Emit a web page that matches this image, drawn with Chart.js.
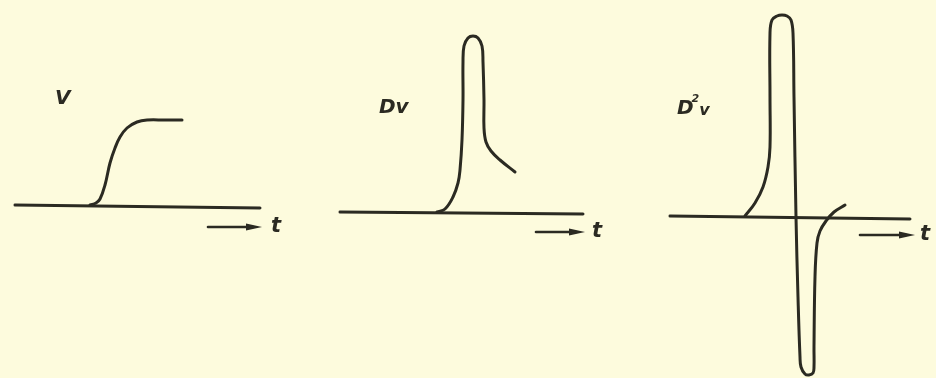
<!DOCTYPE html>
<html>
<head>
<meta charset="utf-8">
<script src="https://cdn.jsdelivr.net/npm/chart.js@4/dist/chart.umd.min.js"></script>
<style>
    html, body { margin: 0; background: #fdfbdd; }
    .row { position: relative; width: 936px; height: 378px; overflow: hidden; }
    .panel { position: absolute; top: 0; width: 312px; height: 378px; }
</style>
</head>
<body>
<div class="row">
    <div class="panel" style="left:0"><canvas id="pV"></canvas></div>
    <div class="panel" style="left:312px"><canvas id="pDv"></canvas></div>
    <div class="panel" style="left:624px"><canvas id="pD2v"></canvas></div>
</div>
<script>
// signal v(t) and its first and second derivative, as [t, value] pairs
const vAxis = [[15, 0], [260, -3]]
const vCurve = [[90, 0], [96, 2], [100, 6], [105, 20], [110, 42], [115, 57], [120, 68],
    [127, 77], [137, 83], [147, 85], [165, 85], [182, 85]]
const vArrow = [[208, -22], [253, -22]]

const dvAxis = [[28, 0], [271, -2]]
const dvCurve = [[125, 0], [133, 3], [141, 15], [146, 29], [148, 42], [150, 72], [151, 112],
    [151, 150], [152, 166], [156, 174], [161, 176], [166, 174], [170, 166], [171, 150],
    [172, 112], [172, 84], [174, 70], [179, 61], [188, 52], [203, 40]]
const dvArrow = [[224, -20], [264, -20]]

const d2vAxis = [[46, 1], [286, -2]]
const d2vCurve = [[121, 1], [131, 14], [139, 30], [144, 50], [146, 70], [146, 120], [146, 184],
    [148, 197], [153, 201], [158, 202], [163, 201], [167, 197], [169, 184], [170, 120],
    [172, 0], [174, -80], [176, -140], [177, -150], [181, -157], [185, -158], [189, -156],
    [190, -150], [190, -130], [191, -60], [193, -26], [196, -14], [202, -4], [210, 5], [221, 12]]
const d2vArrow = [[236, -18], [282, -18]]

const INK = '#2b2a22'

const pts = arr => arr.map(([x, y]) => ({ x, y }))

// text labels and arrowheads, placed through the chart's own scales
const annotate = {
    id: 'annotate',
    afterDatasetsDraw(chart, args, opts) {
        const { ctx, scales: { x, y } } = chart
        ctx.save()
        ctx.fillStyle = INK
        chart.data.datasets.forEach((ds, i) => {
            if (!ds.arrow) return
            const p = chart.getDatasetMeta(i).data
            const end = p[p.length - 1]
            ctx.beginPath()
            ctx.moveTo(end.x + 9, end.y)
            ctx.lineTo(end.x - 7, end.y - 3.5)
            ctx.lineTo(end.x - 7, end.y + 3.5)
            ctx.closePath()
            ctx.fill()
        })
        ctx.textBaseline = 'middle'
        ctx.textAlign = 'left'
        for (const l of opts.labels || []) {
            let px = x.getPixelForValue(l.t)
            const py = y.getPixelForValue(l.v)
            ctx.font = 'italic bold ' + (l.size || 19) + 'px "DejaVu Sans"'
            ctx.fillText(l.text, px, py)
            if (l.sup) {
                px += ctx.measureText(l.text).width
                ctx.font = 'italic bold 11px "DejaVu Sans"'
                ctx.fillText(l.sup, px - 2, py - 10)
                px += ctx.measureText(l.sup).width - 2
                ctx.font = 'italic bold 16px "DejaVu Sans"'
                ctx.fillText(l.after, px, py + 2)
            }
        }
        ctx.restore()
    }
}

function makePanel(id, axis, curve, arrow, yMin, yMax, labels) {
    return new Chart(document.getElementById(id), {
        type: 'scatter',
        data: {
            datasets: [
                { data: pts(axis), borderWidth: 3, tension: 0 },
                { data: pts(curve), borderWidth: 3, tension: 0.4 },
                { data: pts(arrow), borderWidth: 2.6, tension: 0, arrow: true }
            ].map(d => ({ ...d, showLine: true, borderColor: INK, pointRadius: 0, fill: false, clip: false, borderCapStyle: 'round', borderJoinStyle: 'round' }))
        },
        options: {
            responsive: true,
            maintainAspectRatio: false,
            animation: false,
            events: [],
            layout: { padding: 0 },
            plugins: {
                legend: { display: false },
                tooltip: { enabled: false },
                annotate: { labels }
            },
            scales: {
                x: { type: 'linear', min: 0, max: 312, display: false },
                y: { type: 'linear', min: yMin, max: yMax, display: false }
            }
        },
        plugins: [annotate]
    })
}

makePanel('pV', vAxis, vCurve, vArrow, -173, 205, [
    { text: 'V', t: 55, v: 106, size: 20 },
    { text: 't', t: 271, v: -22, size: 21 }
])
makePanel('pDv', dvAxis, dvCurve, dvArrow, -166, 212, [
    { text: 'Dv', t: 67, v: 104, size: 20 },
    { text: 't', t: 280, v: -20, size: 21 }
])
makePanel('pD2v', d2vAxis, d2vCurve, d2vArrow, -161, 217, [
    { text: 'D', sup: '2', after: 'v', t: 53, v: 108, size: 20 },
    { text: 't', t: 296, v: -18, size: 21 }
])
</script>
</body>
</html>
